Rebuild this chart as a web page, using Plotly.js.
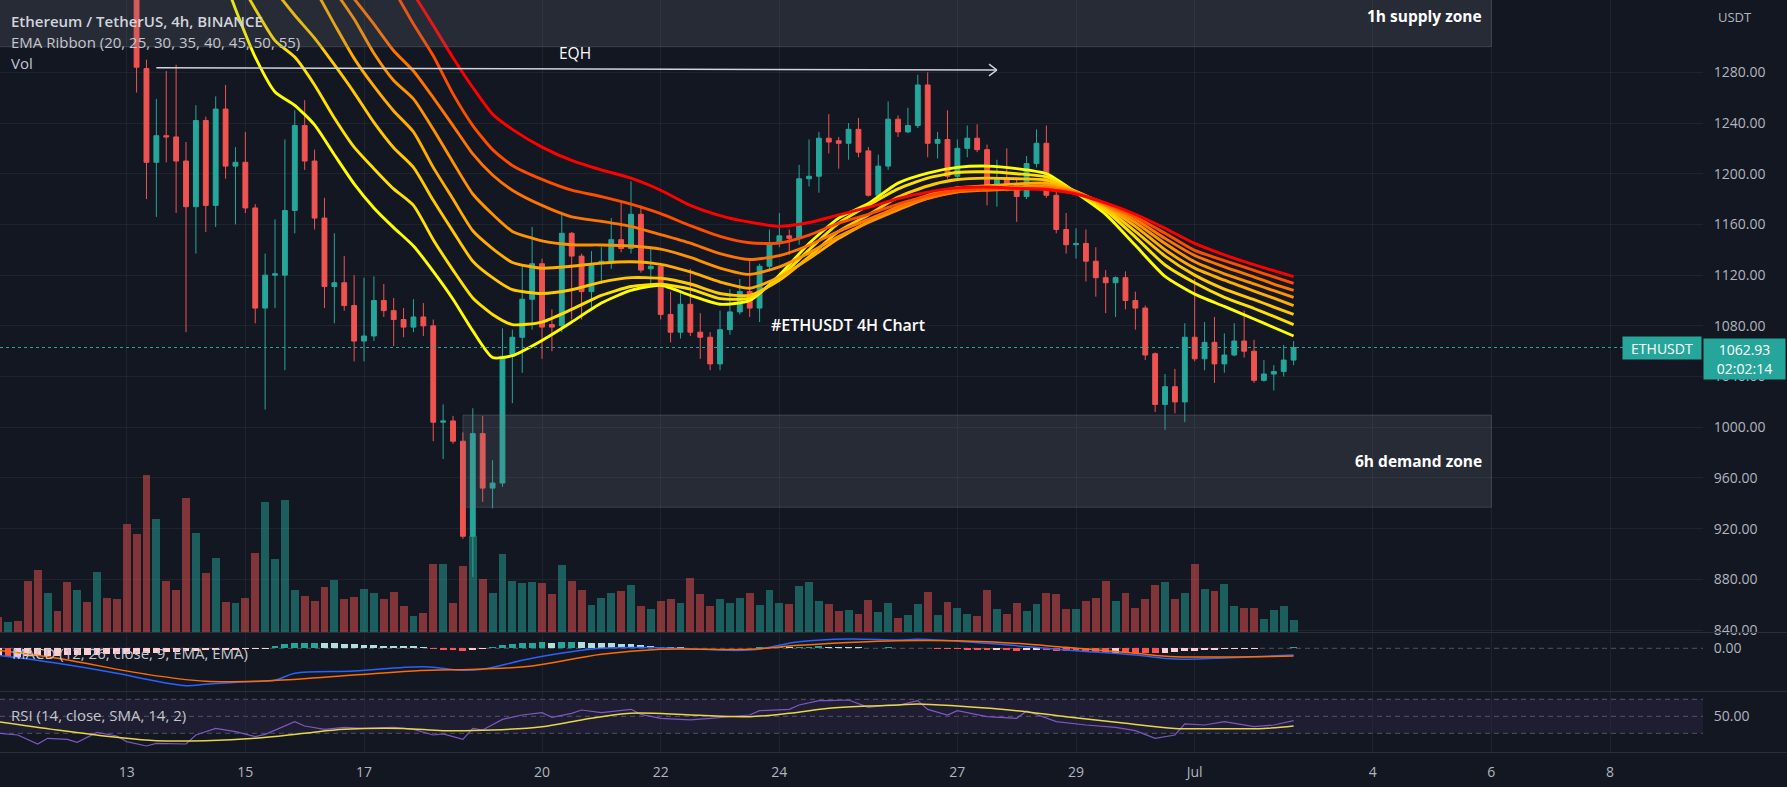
<!DOCTYPE html>
<html><head><meta charset="utf-8">
<script src="https://cdn.plot.ly/plotly-3.0.1.min.js"></script>
<style>html,body{margin:0;padding:0;background:#131722;}#chart{width:1787px;height:787px;}</style>
</head><body><div id="chart"></div>
<script>
// ---------- DATA ----------
const firstIndex = -13; // candle index of first bar (0 = 13 Jun 00:00, 4h bars)
const open = [
 1680,1660,1668,1645,1590,1530,1552,1540,1490,1520,
 1505,1535,1510,1440,1380,1283,1209,1230,1229,1210,
 1174,1242,1175,1251,1206,1209,1173,1094,1120,1120,
 1171,1238,1210,1165,1111,1114,1096,1068,1072,1100,
 1092,1085,1079,1087,1080,1004,1005,989,914,995,
 952,956,1056,1071,1101,1129,1081,1080,1153,1135,
 1107,1129,1131,1148,1141,1168,1125,1127,1089,1075,
 1097,1075,1071,1050,1077,1091,1107,1094,1127,1145,
 1151,1149,1196,1198,1228,1226,1224,1235,1218,1183,
 1206,1243,1233,1238,1270,1224,1227,1198,1220,1228,
 1219,1188,1197,1192,1182,1208,1224,1183,1156,1144,
 1145,1131,1118,1114,1118,1100,1094,1058,1018,1032,
 1020,1071,1054,1067,1050,1057,1068,1060,1037,1042,
 1044,1053];
const high = [
 1690,1675,1672,1650,1600,1560,1558,1545,1530,1525,
 1545,1540,1515,1445,1390,1290,1259,1281,1286,1225,
 1254,1245,1261,1270,1221,1233,1176,1137,1164,1227,
 1250,1258,1219,1181,1153,1135,1120,1118,1119,1113,
 1102,1094,1101,1098,1085,1018,1009,996,1015,1009,
 974,1078,1077,1128,1158,1133,1093,1170,1154,1137,
 1139,1142,1165,1178,1194,1175,1141,1129,1107,1107,
 1125,1090,1075,1092,1109,1117,1131,1129,1156,1169,
 1156,1207,1227,1233,1247,1229,1240,1244,1221,1215,
 1257,1246,1252,1278,1280,1233,1250,1227,1238,1239,
 1223,1211,1220,1196,1214,1235,1238,1187,1169,1157,
 1156,1142,1124,1119,1123,1107,1096,1059,1042,1046,
 1082,1117,1083,1087,1074,1082,1092,1069,1053,1049,
 1065,1068];
const low = [
 1655,1650,1640,1580,1520,1525,1535,1480,1485,1500,
 1500,1500,1430,1370,1264,1180,1166,1209,1169,1075,
 1137,1154,1158,1196,1160,1169,1082,1014,1094,1045,
 1153,1203,1156,1094,1082,1092,1052,1052,1068,1087,
 1064,1071,1075,1072,989,975,987,912,882,941,
 936,953,1019,1043,1077,1054,1060,1075,1085,1085,
 1092,1113,1125,1138,1137,1122,1113,1085,1067,1070,
 1072,1054,1045,1045,1073,1089,1087,1083,1123,1142,
 1136,1144,1190,1185,1216,1204,1211,1213,1182,1181,
 1203,1229,1232,1236,1213,1212,1196,1195,1213,1217,
 1175,1174,1186,1162,1180,1205,1181,1153,1137,1133,
 1115,1103,1090,1087,1093,1077,1053,1012,998,1011,
 1004,1052,1045,1035,1043,1056,1055,1035,1036,1029,
 1040,1049];
const close = [
 1660,1668,1645,1590,1530,1552,1540,1490,1520,1505,
 1535,1510,1440,1380,1284,1209,1230,1229,1210,1174,
 1242,1175,1251,1206,1209,1173,1094,1120,1121,1171,
 1238,1210,1165,1111,1114,1096,1068,1072,1100,1092,
 1085,1079,1087,1080,1004,1005,989,914,995,952,
 956,1056,1071,1101,1129,1079,1079,1153,1135,1107,
 1129,1131,1148,1141,1168,1124,1127,1089,1075,1097,
 1075,1071,1050,1077,1091,1107,1094,1127,1145,1151,
 1149,1196,1198,1228,1225,1224,1235,1217,1183,1206,
 1243,1233,1238,1270,1224,1227,1198,1220,1228,1219,
 1188,1197,1192,1182,1208,1224,1183,1156,1144,1145,
 1131,1118,1114,1118,1100,1094,1057,1018,1032,1020,
 1071,1054,1067,1050,1057,1068,1060,1037,1042,1044,
 1053,1062.93];
const volumeK = [
 150,100,110,510,624,394,210,497,424,300,
 600,344,327,1084,984,1574,1134,510,417,1344,
 990,594,744,304,294,344,794,1304,734,1317,
 417,357,307,450,524,327,350,434,390,327,
 397,257,157,190,677,684,290,657,957,534,
 390,777,510,490,497,490,377,667,507,424,
 274,344,390,407,467,257,227,310,327,294,
 540,377,257,327,294,344,394,267,417,294,
 284,457,497,307,284,207,217,177,317,200,
 290,140,167,277,397,167,300,244,177,157,
 424,227,177,290,207,284,394,384,227,234,
 307,340,507,307,390,244,327,467,500,327,
 394,677,434,407,477,257,240,244,127,217,
 257,117];
const macdHist = [
 -16,-17,-16.5,-16,-15.5,-15,-14.5,-14,-13.5,-13,
 -12.5,-12,-11.5,-11,-10.5,-10,-9,-8,-7,-6,
 -5,-4,-3.5,-3,-2.5,-2,-1.5,-0.5,4,8,
 10,11,11.5,11,10,9,8,7,6,5.5,
 5,4.5,4,3,-1,-2.5,-3.5,-5,-3,-1,
 2,6,8,10,11.5,12,11.5,13,13.5,12.5,
 11.5,10.5,10,9,8,6,5,3.5,2.5,2,
 1.5,1,0.8,1,1.2,1.5,1.5,2,2.5,3,
 2.8,3.2,3.5,3.8,3.3,2.8,2.5,2,1.6,1.4,
 1.8,1.5,1.2,1.4,0.6,-1,-2,-2.2,-2.6,-3,
 -4,-3.6,-4,-4.5,-3.8,-3.2,-4,-5,-6,-6.2,
 -7,-8,-9,-8.4,-9,-9.5,-10,-10.2,-8.5,-7.2,
 -5.5,-4.8,-3.8,-3.2,-2.2,-1.4,-1.1,-0.9,0.5,1,
 1.6,3];

// EMA ribbon, read at sample bars
const emaIndex = [9,11,13,15,17,19,21,23,25,27,29,31,33,35,37,39,42,45,48,51,54,57,60,63,66,69,72,75,78,81,84,87,90,93,96,99,102,105,108,111,114,116,118];
const ema20 = [1372,1330,1292,1264.5,1254,1238.5,1215,1192,1173,1157.5,1143,1123,1101,1076,1055,1056.5,1068.5,1083,1098,1108,1112,1104,1097,1100,1120,1145,1165,1176.5,1192.6,1200.5,1205,1206,1204,1200,1185,1168,1143.5,1119,1105,1095.3,1085.4,1078.7,1072];
const ema25 = [1390,1358,1330,1305,1292,1270,1244,1221,1204,1188,1175,1148,1124,1102,1089,1081,1083,1093,1104,1111,1112.8,1109,1101.5,1101.8,1118,1140,1161,1175,1188,1196.5,1201,1201.5,1200,1197.5,1185.5,1171,1150,1128,1114,1102.5,1093.7,1087.4,1081];
const ema30 = [1420,1395,1370,1345,1325,1307,1286,1264,1240.5,1220.5,1205,1179,1154.5,1131,1118,1108.5,1105.5,1108.5,1114.5,1118,1117.5,1113,1105.5,1104,1116,1134.5,1154.5,1167.5,1181.5,1190.3,1195.4,1196.5,1196,1195,1186,1172.5,1154.5,1135,1120,1109,1100.7,1094.8,1089];
const ema35 = [1450,1430,1410,1390,1368,1346,1318,1291,1269,1249.5,1233,1205,1180,1155,1141,1130,1125.5,1127,1129.5,1130.6,1128.5,1122.5,1114.6,1109.7,1118.5,1133,1149,1162,1174,1183,1188.9,1190.5,1192,1192.5,1186,1174,1158.5,1140,1125.5,1116,1107.4,1101.8,1096];
const ema40 = [1460,1445,1430,1412,1395,1370,1345,1322,1295,1273.5,1259,1235,1209,1184,1168,1154.5,1147,1144,1143.8,1143,1140.5,1134,1125.6,1120.6,1126.5,1137.5,1150.5,1161.5,1171.5,1180.5,1185.9,1188,1189.5,1190.5,1185.5,1175,1161.5,1145,1130.5,1121,1113.1,1107.7,1102.5];
const ema45 = [1465,1450,1435,1418,1398,1378,1358,1338,1318,1297,1281,1260,1238,1215.6,1199,1187,1175,1166,1162.5,1158.5,1152,1145.2,1137,1132.3,1135.4,1143.6,1154.5,1164,1173.5,1180.5,1185.5,1187,1188,1189,1185,1175.5,1164,1149,1135.5,1126.5,1118.5,1113,1108];
const ema50 = [1480,1470,1458,1446,1432,1418,1402,1385,1367,1345,1318,1293,1263,1238,1219,1206.5,1195.5,1187,1182,1176,1168.5,1159,1150.6,1145.5,1145.3,1151.6,1161,1168,1176,1182.5,1186.8,1188,1188,1188,1184.5,1176.5,1166,1153,1139.5,1131.5,1123.8,1118.6,1113.5];
const ema55 = [1495,1485,1475,1465,1453,1440,1425,1408,1390,1368,1342,1317,1291.5,1268,1247,1235,1221,1210.5,1203,1196.5,1187,1175,1167,1161.8,1158.5,1161.5,1167.5,1173.4,1180.3,1185.5,1188.8,1189.5,1188.5,1187.5,1184,1177,1168,1157,1145,1136,1128.2,1123.5,1118.8];

// MACD lines (sampled)
const macdIndex = [-13,-7,-1,2,6,8,12,15,17,23,30,34,36,41,48,54,63,68,73,78,80,87,95,102,106,110,118];
const macdLine  = [-14,-30,-50,-62,-74.7,-72,-66.7,-64,-50,-45.4,-36.7,-44,-42,-20,0,1.3,-3.4,13.3,18.6,16.6,18,10,-3.4,-13.4,-21.4,-20,-13.4];
const signalIndex = [-13,-7,2,8,14,20,29,36,41,48,54,63,68,78,87,95,102,106,118];
const signalLine  = [-4,-20,-52,-66,-65.4,-58,-45.4,-41.4,-35.4,-12,-2,-2,6,15.3,13.3,2,-10,-16.7,-15.4];

// RSI (sampled)
const rsiIndex = [-13,-11,-9,-8,-6,-5,-3,-1,0,2,3,6,7,9,11,13,14,17,18,20,22,24,27,29,31,32,34,35,36,38,40,42,43,45,46,48,51,52,54,56,57,59,61,63,64,67,68,70,71,73,75,77,78,80,81,83,84,87,90,91,94,97,100,102,104,106,107,109,111,114,116,118];
const rsiValue = [30,28,17.4,24.1,22.9,19.4,31.1,26.8,20.2,15.1,18.2,17.4,28,35.8,31.9,26,28.8,43.7,38.6,34.7,37,35.8,37,34.7,28,29.2,22.9,35.8,33.9,46.4,51.5,54.3,48.8,53.5,57.4,54.3,58.2,52.3,47.6,46.8,45.7,47.6,49.6,51.5,56.6,58.2,63.3,68.4,68.4,69.2,60.6,63.3,63,68.4,58.2,51.5,56.6,49.6,47.6,56.2,43.7,39.8,37,33.1,24.1,28,41,39.8,43.7,37.8,39.8,44.9];
const rsiMaIndex = [-13,-7,-1,3,8,13,18,22,28,32,37,42,46,51,57,63,67,71,75,78,80,84,90,95,101,106,110,115,118];
const rsiMaValue = [43.7,33.9,25.3,21.3,21.3,24.1,30,34.7,35.8,33.1,33.9,37.8,45.7,53.5,51.5,49.6,53.5,59.4,62.1,63.3,64.5,62.1,56.6,49.6,41.7,35.8,35.5,35.8,38.6];

// Axis labels
const dayTickIndex = [0,12,24,42,54,66,84,96,108,126,138,150];
const dayTickText = ['13','15','17','20','22','24','27','29','Jul','4','6','8'];
const priceTicks = [840,880,920,960,1000,1040,1080,1120,1160,1200,1240,1280];

// Drawings
const supplyZone = {start:-20, end:138, low:1300.2, high:1380};
const demandZone = {start:34, end:138, low:936.9, high:1009.6};
const eqh = {startIndex:3, startPrice:1283.6, endIndex:88, endPrice:1281.8};
const lastPrice = 1062.93;
const countdown = '02:02:14';

// ---------- BUILD ----------
const idx = open.map((_, k) => firstIndex + k);
const UP = '#26a69a', DOWN = '#ef5350';
const volColors = close.map((c, k) => c >= open[k] ? 'rgba(38,166,154,0.5)' : 'rgba(239,83,80,0.5)');
const histColors = macdHist.map((v, k) => {
  const p = k > 0 ? macdHist[k-1] : v;
  if (v >= 0) return v >= p ? '#26a69a' : '#b2dfdb';
  return v < p ? '#ff5252' : '#ffcdd2';
});

const W = 1703, H = 752;
const PX = v => v / W;
const PY = v => (H - v) / H;

const emaSets = [ema20, ema25, ema30, ema35, ema40, ema45, ema50, ema55];
const emaColors = ['#ffff00','#ffe100','#ffc800','#ffad00','#ff9200','#ff7400','#ff4d00','#ff0000'];

const traces = [];
traces.push({type:'bar', x: idx, y: volumeK, xaxis:'x', yaxis:'y', width:0.8,
  marker:{color: volColors, line:{width:0}}, hoverinfo:'skip'});
emaSets.forEach((s, k) => traces.push({type:'scatter', mode:'lines', x: emaIndex, y: s,
  xaxis:'x', yaxis:'y4', line:{color: emaColors[k], width:2.9, shape:'spline', smoothing:0.6}, hoverinfo:'skip'}));
traces.push({type:'candlestick', x: idx, open: open, high: high, low: low, close: close,
  xaxis:'x', yaxis:'y4', whiskerwidth:0,
  increasing:{line:{color:UP, width:1}, fillcolor:UP},
  decreasing:{line:{color:DOWN, width:1}, fillcolor:DOWN}, hoverinfo:'skip'});
traces.push({type:'bar', x: idx, y: macdHist, xaxis:'x', yaxis:'y2', width:0.7,
  marker:{color: histColors, line:{width:0}}, hoverinfo:'skip'});
traces.push({type:'scatter', mode:'lines', x: macdIndex, y: macdLine, xaxis:'x', yaxis:'y2',
  line:{color:'#2962ff', width:1.5, shape:'spline'}, hoverinfo:'skip'});
traces.push({type:'scatter', mode:'lines', x: signalIndex, y: signalLine, xaxis:'x', yaxis:'y2',
  line:{color:'#ff6d00', width:1.5, shape:'spline'}, hoverinfo:'skip'});
traces.push({type:'scatter', mode:'lines', x: rsiIndex, y: rsiValue, xaxis:'x', yaxis:'y3',
  line:{color:'#7e57c2', width:1.2}, hoverinfo:'skip'});
traces.push({type:'scatter', mode:'lines', x: rsiMaIndex, y: rsiMaValue, xaxis:'x', yaxis:'y3',
  line:{color:'#e8d64a', width:1.5, shape:'spline'}, hoverinfo:'skip'});

const GRID = 'rgba(42,46,57,0.55)';
const AXF = {family:'Open Sans, sans-serif', size:14, color:'#b2b5be'};
const FF = 'Open Sans, sans-serif';

const shapes = [
  {type:'rect', xref:'paper', x0:0, x1:1, yref:'y3', y0:30, y1:70, fillcolor:'rgba(126,87,194,0.1)', line:{width:0}, layer:'below'},
  ...[70,50,30].map(v => ({type:'line', xref:'paper', x0:0, x1:1, yref:'y3', y0:v, y1:v, line:{color:'rgba(120,123,134,0.6)', width:1, dash:'5px,4px'}, layer:'below'})),
  {type:'line', xref:'paper', x0:0, x1:1, yref:'y2', y0:0, y1:0, line:{color:'rgba(120,123,134,0.6)', width:1, dash:'5px,4px'}, layer:'below'},
  ...[632.5, 691.5, 752.5].map(v => ({type:'line', xref:'paper', x0:0, x1:1787/W, yref:'paper', y0:PY(v), y1:PY(v), line:{color:'#2a2e39', width:1}})),
  {type:'rect', xref:'x', yref:'y4', x0:supplyZone.start, x1:supplyZone.end, y0:supplyZone.low, y1:supplyZone.high,
    fillcolor:'rgba(120,123,134,0.2)', line:{color:'rgba(120,123,134,0.35)', width:1}, layer:'above'},
  {type:'rect', xref:'x', yref:'y4', x0:demandZone.start, x1:demandZone.end, y0:demandZone.low, y1:demandZone.high,
    fillcolor:'rgba(120,123,134,0.2)', line:{color:'rgba(120,123,134,0.35)', width:1}, layer:'above'},
  {type:'line', xref:'x', yref:'y4', x0:eqh.startIndex, y0:eqh.startPrice, x1:eqh.endIndex, y1:eqh.endPrice, line:{color:'#d1d4dc', width:1.5}},
  {type:'line', xref:'x', yref:'y4', x0:eqh.endIndex, y0:eqh.endPrice, x1:eqh.endIndex-0.8, y1:eqh.endPrice+4.6, line:{color:'#d1d4dc', width:1.5}},
  {type:'line', xref:'x', yref:'y4', x0:eqh.endIndex, y0:eqh.endPrice, x1:eqh.endIndex-0.8, y1:eqh.endPrice-4.6, line:{color:'#d1d4dc', width:1.5}},
  {type:'line', xref:'paper', x0:0, x1:1, yref:'y4', y0:lastPrice, y1:lastPrice, line:{color:UP, width:1, dash:'dot'}, layer:'above'}
];

const txt = (text, x, y, opts={}) => Object.assign({text, xref:'paper', yref:'paper', x:PX(x), y:PY(y),
  xanchor:'left', yanchor:'middle', showarrow:false,
  font:{family:FF, size:14, color:'#d1d4dc'}}, opts);

const annotations = [
  txt('Ethereum / TetherUS, 4h, BINANCE', 9, 20.7, {font:{family:FF, size:15, color:'#d1d4dc', weight:600}}),
  txt('EMA Ribbon (20, 25, 30, 35, 40, 45, 50, 55)', 9, 41.7, {font:{family:FF, size:15, color:'#c3c6ce'}}),
  txt('Vol', 9, 62.7, {font:{family:FF, size:15, color:'#c3c6ce'}}),
  txt('MACD (12, 26, close, 9, EMA, EMA)', 10, 653.3, {font:{family:FF, size:15, color:'#c3c6ce'}}),
  txt('RSI (14, close, SMA, 14, 2)', 9, 715, {font:{family:FF, size:15, color:'#c3c6ce'}}),
  txt('USDT', 1716, 16.5, {font:{family:FF, size:13, color:'#b2b5be'}}),
  txt('1h supply zone', 1484, 16.3, {xanchor:'right', font:{family:FF, size:15.5, color:'#ffffff', weight:700}}),
  txt('6h demand zone', 1484, 461.5, {xanchor:'right', font:{family:FF, size:15.5, color:'#ffffff', weight:700}}),
  txt('EQH', 575, 53.5, {xanchor:'center', font:{family:FF, size:15.5, color:'#ffffff'}}),
  txt('#ETHUSDT 4H Chart', 848, 325, {xanchor:'center', font:{family:FF, size:16, color:'#ffffff', weight:600}}),
  {text:'ETHUSDT', xref:'paper', x:PX(1702), xanchor:'right', yref:'y4', y:lastPrice, yanchor:'middle', yshift:-0.8,
    showarrow:false, bgcolor:UP, width:76, height:20, font:{family:FF, size:14, color:'#ffffff'}},
  {text: lastPrice.toFixed(2) + '<br>' + countdown, xref:'paper', x:PX(1702.5), xanchor:'left', yref:'y4', y:lastPrice, yanchor:'top', yshift:9.2,
    showarrow:false, bgcolor:UP, width:79, height:38, align:'center', font:{family:FF, size:14, color:'#ffffff'}}
];

const layout = {
  width:1787, height:787, margin:{l:0, r:84, t:0, b:35},
  paper_bgcolor:'#131722', plot_bgcolor:'#131722',
  showlegend:false, hovermode:false, barmode:'overlay', bargap:0,
  font:{family:FF, color:'#b2b5be'},
  xaxis:{range:[-12.81, 159.4], anchor:'y3', tickmode:'array', tickvals:dayTickIndex, ticktext:dayTickText,
    showgrid:true, gridcolor:GRID, zeroline:false, showline:false, ticks:'outside', ticklen:7, tickcolor:'rgba(0,0,0,0)',
    tickfont:AXF, rangeslider:{visible:false}, fixedrange:true},
  yaxis:{domain:[0.15957, 1], range:[0, 6320], visible:false, fixedrange:true},
  yaxis4:{overlaying:'y', side:'right', anchor:'x', range:[838.5, 1337.03], tickmode:'array', tickvals:priceTicks,
    ticktext:priceTicks.map(v => v.toFixed(2)),
    showgrid:true, gridcolor:GRID, zeroline:false, showline:false, ticks:'outside', ticklen:7, tickcolor:'rgba(0,0,0,0)',
    tickfont:AXF, fixedrange:true},
  yaxis2:{domain:[0.08112, 0.15824], range:[-85.4, 30.6], side:'right', anchor:'x', tickmode:'array', tickvals:[0], ticktext:['0.00'],
    showgrid:false, zeroline:false, showline:false, ticks:'outside', ticklen:7, tickcolor:'rgba(0,0,0,0)', tickfont:AXF, fixedrange:true},
  yaxis3:{domain:[0, 0.07979], range:[8, 78.6], side:'right', anchor:'x', tickmode:'array', tickvals:[50], ticktext:['50.00'],
    showgrid:false, zeroline:false, showline:false, ticks:'outside', ticklen:7, tickcolor:'rgba(0,0,0,0)', tickfont:AXF, fixedrange:true},
  shapes, annotations
};

Plotly.newPlot('chart', traces, layout, {displayModeBar:false, staticPlot:true});
</script>
</body></html>
